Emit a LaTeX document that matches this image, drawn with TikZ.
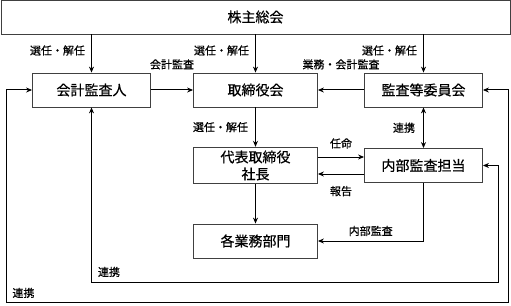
\documentclass[tikz,border=0pt]{standalone}
\usepackage{fontspec}
\newfontfamily\jpfont[FakeBold=0.6]{Noto Sans CJK JP}
\usetikzlibrary{positioning, arrows.meta}
\tikzset{
    box/.style={draw=black!75, line width=0.8pt, minimum height=34pt, align=center, font=\jpfont\fontsize{14}{17}\selectfont}, % Boxes
    lbl/.style={font=\jpfont\fontsize{11}{13}\selectfont, inner sep=2pt}, % Small labels
}

\begin{document}
\begin{tikzpicture}[x=1pt, y=1pt, >={Stealth[length=6pt, width=5pt]}, line width=1pt]
        \useasboundingbox (-255.5,90) rectangle (255.5,-215);

        % Middle row
        \node (board) [box, minimum width=124pt] {取締役会};
        \node (auditor) [box, minimum width=118pt, left of=board, node distance=164pt] {会計監査人};
        \node (committee) [box, minimum width=118pt, right of=board, node distance=168pt] {監査等委員会};

        % Top
        \node (share) [box, minimum width=509pt, above of=board, node distance=73pt] {株主総会};

        % Lower rows
        \node (ceo) [box, minimum width=124pt, below of=board, node distance=75.5pt] {代表取締役\\社長};
        \node (internal) [box, minimum width=118pt, below of=committee, node distance=75.5pt] {内部監査担当};
        \node (units) [box, minimum width=124pt, below of=ceo, node distance=75.5pt] {各業務部門};

        % Loop corners
        \coordinate (iSE) at (242.5,-192);
        \coordinate (oSW) at (-248.5,-212);
        \coordinate (oSE) at (252.5,-212);

        % Transitions
        \draw[->] (auditor |- share.south) -- node[lbl, left=4pt, pos=0.42] {選任・解任} (auditor);
        \draw[->] (board |- share.south) -- node[lbl, left=4pt, pos=0.42] {選任・解任} (board);
        \draw[->] (committee |- share.south) -- node[lbl, left=4pt, pos=0.42] {選任・解任} (committee);
        \draw[->] (auditor) -- node[lbl, above=18pt] {会計監査} (board);
        \draw[->] (committee) -- node[lbl, above=18pt] {業務・会計監査} (board);
        \draw[->] (board) -- node[lbl, left=5pt] {選任・解任} (ceo);
        \draw[<->] (committee) -- node[lbl, left=6pt] {連携} (internal);
        \draw[->] ([yshift=8.5pt]ceo.east) -- node[lbl, above=6pt] {任命} ([yshift=8.5pt]internal.west);
        \draw[->] ([yshift=-8.5pt]internal.west) -- node[lbl, below=9.5pt] {報告} ([yshift=-8.5pt]ceo.east);
        \draw[->] (ceo) -- (units);
        \draw[->] (internal.south) |- node[lbl, pos=0.75, above=2.5pt] {内部監査} (units.east);

        % Cooperation loops
        \draw[<->] (auditor.south) |- node[lbl, pos=0.5, above right=2.5pt and 4pt] {連携} (iSE) |- (internal.east);
        \draw[<->] (auditor.west) -| (oSW) node[lbl, above right=1.5pt and 3pt] {連携} -- (oSE) |- (committee.east);
    \end{tikzpicture}
\end{document}
